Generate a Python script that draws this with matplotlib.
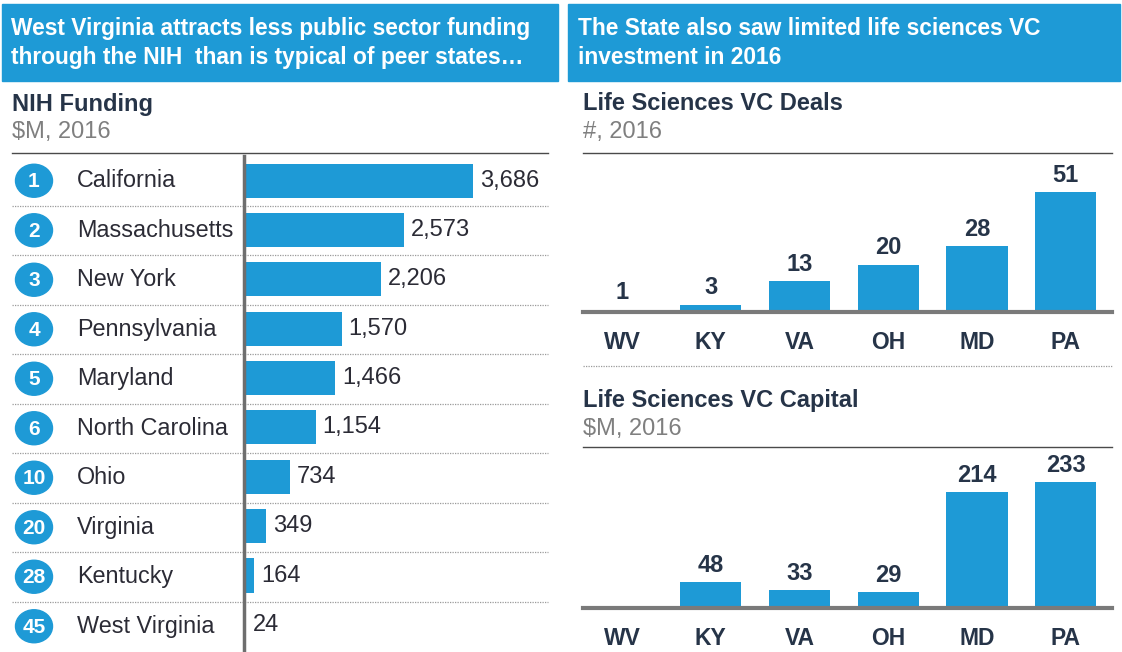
import numpy as np
import matplotlib
matplotlib.use("Agg")
import matplotlib.pyplot as plt
from matplotlib.patches import Rectangle, Ellipse

plt.rcParams['font.family'] = ['Liberation Sans', 'DejaVu Sans']

# ---------------- data ----------------
nih_ranks = [1, 2, 3, 4, 5, 6, 10, 20, 28, 45]
nih_states = ["California", "Massachusetts", "New York", "Pennsylvania", "Maryland",
              "North Carolina", "Ohio", "Virginia", "Kentucky", "West Virginia"]
nih_funding = [3686, 2573, 2206, 1570, 1466, 1154, 734, 349, 164, 24]

vc_states = ["WV", "KY", "VA", "OH", "MD", "PA"]
vc_deals = [1, 3, 13, 20, 28, 51]
vc_capital = [np.nan, 48, 33, 29, 214, 233]

left_title = "West Virginia attracts less public sector funding\nthrough the NIH  than is typical of peer states…"
right_title = "The State also saw limited life sciences VC\ninvestment in 2016"

BLUE = "#1E9AD6"
NAVY = "#263448"
GRAY = "#7F7F7F"
TXT = "#2B2B35"

W, H = 1122, 652
fig = plt.figure(figsize=(W / 100, H / 100), dpi=100)
fig.patch.set_facecolor("white")

def fx(px):
    return px / W

def fy(py):
    return 1 - py / H

# overlay axes in pixel coords
ov = fig.add_axes([0, 0, 1, 1])
ov.set_xlim(0, W)
ov.set_ylim(H, 0)
ov.axis("off")

# header boxes
ov.add_patch(Rectangle((2, 4), 556, 77, color=BLUE, zorder=1))
ov.add_patch(Rectangle((568, 4), 552, 77, color=BLUE, zorder=1))
ov.text(11, 43, left_title, color="white", fontsize=16.4, fontweight="bold",
        va="center", ha="left", linespacing=1.32)
ov.text(578, 43, right_title, color="white", fontsize=16.4, fontweight="bold",
        va="center", ha="left", linespacing=1.32)

# left section headings
ov.text(12, 104, "NIH Funding", color=NAVY, fontsize=17, fontweight="bold", va="center")
ov.text(12, 132, "$M, 2016", color=GRAY, fontsize=17, va="center")
ov.plot([12, 548], [153, 153], color="#4a4a4a", lw=1)

row0, rowh = 180.75, 49.5
for i, (r, s) in enumerate(zip(nih_ranks, nih_states)):
    cy = row0 + rowh * i
    ov.add_patch(Ellipse((34, cy), 37, 33, color=BLUE, zorder=3))
    ov.text(34, cy + 1, str(r), color="white", fontsize=15, fontweight="bold",
            ha="center", va="center", zorder=4)
    ov.text(77, cy, s, color=TXT, fontsize=16.8, ha="left", va="center")
    if i < len(nih_states) - 1:
        ov.plot([12, 548], [cy + rowh / 2, cy + rowh / 2], color="#9a9a9a",
                lw=0.9, ls=(0, (1, 1)))

# right section headings
ov.text(583, 104, "Life Sciences VC Deals", color=NAVY, fontsize=17, fontweight="bold", va="center")
ov.text(583, 132, "#, 2016", color=GRAY, fontsize=17, va="center")
ov.plot([583, 1112], [153, 153], color="#4a4a4a", lw=1)
ov.plot([583, 1112], [366, 366], color="#9a9a9a", lw=0.9, ls=(0, (1, 1)))
ov.text(583, 400, "Life Sciences VC Capital", color=NAVY, fontsize=17, fontweight="bold", va="center")
ov.text(583, 429, "$M, 2016", color=GRAY, fontsize=17, va="center")
ov.plot([583, 1112], [447, 447], color="#4a4a4a", lw=1)

# ---------------- NIH bars ----------------
axL = fig.add_axes([fx(244), fy(652), fx(548 - 244), fy(156) - fy(652)])
axL.patch.set_alpha(0)
ypos = np.arange(len(nih_funding))
axL.barh(ypos, nih_funding, height=0.69, color=BLUE, zorder=2)
axL.set_ylim(len(nih_funding) - 0.5 + 0.05, -0.5)
axL.set_xlim(0, 3686 * (548 - 244) / 229)
for y, v in zip(ypos, nih_funding):
    axL.annotate(f"{v:,}", (v, y), xytext=(5, 0), textcoords="offset points",
                 va="center", ha="left", fontsize=17, color=TXT)
for sp in ["top", "right", "bottom"]:
    axL.spines[sp].set_visible(False)
axL.spines["left"].set_color("#6e6e6e")
axL.spines["left"].set_linewidth(2.5)
axL.set_xticks([])
axL.set_yticks([])

# ---------------- VC bars ----------------
def vc_axes(top_px, base_px, values, ymax_per_px):
    ax = fig.add_axes([fx(583), fy(base_px), fx(1112 - 583), fy(top_px) - fy(base_px)])
    ax.patch.set_alpha(0)
    x = np.arange(len(values))
    vals = np.array(values, dtype=float)
    ax.bar(x, np.nan_to_num(vals), width=0.69, color=BLUE, zorder=2)
    ax.set_xlim(-0.44, 5.52)
    ax.set_ylim(0, (base_px - top_px) * ymax_per_px)
    for xi, v in zip(x, vals):
        if np.isnan(v):
            continue
        ax.annotate(f"{int(v)}", (xi, v), xytext=(0, 4), textcoords="offset points",
                    ha="center", va="bottom", fontsize=17, fontweight="bold", color=NAVY)
    for sp in ["top", "right", "left"]:
        ax.spines[sp].set_visible(False)
    ax.spines["bottom"].set_color("#7a7a7a")
    ax.spines["bottom"].set_linewidth(3)
    ax.set_yticks([])
    ax.set_xticks(x)
    ax.set_xticklabels(vc_states, fontsize=16.5, fontweight="bold", color=NAVY)
    ax.tick_params(axis="x", length=0, pad=14)
    return ax

vc_axes(160, 312, vc_deals, 1 / 2.35)
vc_axes(452, 608, vc_capital, 1 / 0.54)

fig.savefig("out.png", dpi=100, facecolor="white")
